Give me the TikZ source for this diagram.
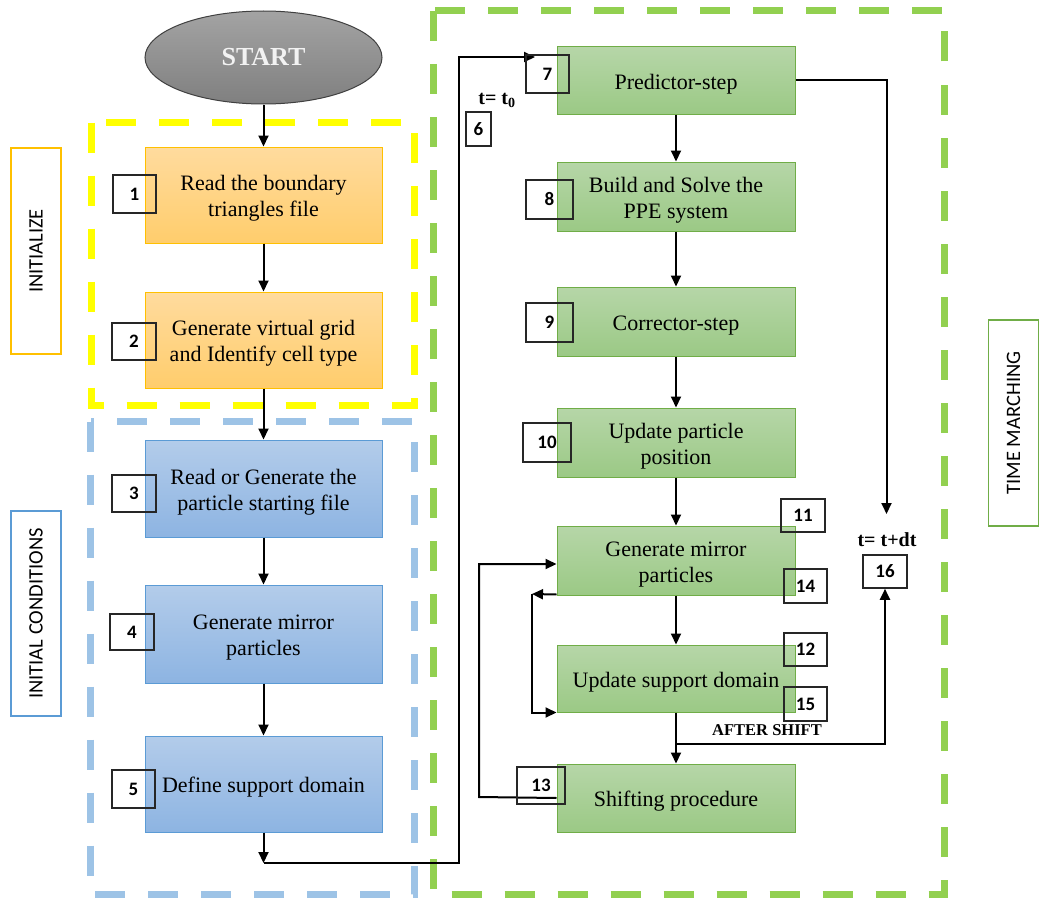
\documentclass[tikz,border=0pt]{standalone}
\usepackage{fontspec}
\setmainfont{Liberation Serif}
\newfontfamily\numfont{Carlito}
\usetikzlibrary{arrows.meta,shapes.geometric}

\definecolor{orangeline}{HTML}{FFC000}
\definecolor{orangetop}{HTML}{FFDB9E}
\definecolor{orangebot}{HTML}{FFCD6C}
\definecolor{blueline}{HTML}{5B9BD5}
\definecolor{bluetop}{HTML}{B3CCEA}
\definecolor{bluebot}{HTML}{8DB4E2}
\definecolor{greenline}{HTML}{70AD47}
\definecolor{greentop}{HTML}{B6D6A8}
\definecolor{greenbot}{HTML}{9BC985}
\definecolor{frameyellow}{HTML}{FFFF00}
\definecolor{frameblue}{HTML}{9DC3E6}
\definecolor{framegreen}{HTML}{92D050}
\definecolor{startline}{HTML}{404040}
\definecolor{starttext}{HTML}{F2F2F2}

% stage text: centred lines, set slightly below the box centre
\newcommand{\stagetext}[1]{\raisebox{-3.5pt}[\height][\depth]{\begin{tabular}{@{}c@{}}#1\end{tabular}}}

\tikzset{
  stage/.style={line width=1pt, minimum width=237pt, inner sep=0pt,
                font=\fontsize{22}{26}\selectfont},
  orangebox/.style={stage, draw=orangeline, top color=orangetop, bottom color=orangebot, minimum height=96pt},
  bluebox/.style={stage, draw=blueline, top color=bluetop, bottom color=bluebot},
  greenbox/.style={stage, draw=greenline, top color=greentop, bottom color=greenbot, minimum width=238pt},
  numbox/.style={draw=black!85, line width=1.6pt, inner sep=0pt,
                 font=\numfont\bfseries\fontsize{19}{21}\selectfont},
  sidelabel/.style={line width=1.3pt, rotate=90, minimum width=206pt, minimum height=50pt, inner sep=0pt,
                    font=\numfont\fontsize{20.5}{22}\selectfont},
  steplabel/.style={inner sep=0pt, font=\bfseries\fontsize{20}{22}\selectfont},
  arr/.style={-{Triangle[length=11pt,width=10pt]}, line width=2pt},
  dashframe/.style={line width=7pt, dash pattern=on 30pt off 23pt},
}

\begin{document}
\begin{tikzpicture}[x=1pt,y=-1pt]
\useasboundingbox (0,0) rectangle (1039,899);

% dashed group frames
\draw[dashframe, frameyellow] (91,122.5) rectangle (414,405);
\draw[dashframe, frameblue] (90.5,421.5) rectangle (414.5,894);
\draw[dashframe, framegreen] (433.5,11) rectangle (944,894);

% side labels
\node[sidelabel, draw=orangeline] (lblinit) at (36,251) {INITIALIZE};
\node[sidelabel, draw=blueline, minimum width=205pt] (lblcond) at (36,613.5) {INITIAL CONDITIONS};
\node[sidelabel, draw=greenline] (lbltime) at (1013.5,423) {TIME MARCHING};

% start
\node[ellipse, draw=startline, line width=1pt, top color=black!36, bottom color=black!50,
      minimum width=237pt, minimum height=93pt, inner sep=0pt, text=starttext,
      font=\bfseries\fontsize{26}{28}\selectfont] (start) at (263.5,57.5) {START};

% initialization stages
\node[orangebox] (b1) at (263.5,195) {\stagetext{Read the boundary\\triangles file}};
\node[orangebox] (b2) at (263.5,340) {\stagetext{Generate virtual grid\\and Identify cell type}};

% initial conditions stages
\node[bluebox, minimum height=97pt] (b3) at (263.5,488.5) {\stagetext{Read or Generate the\\particle starting file}};
\node[bluebox, minimum height=98pt] (b4) at (263.5,634) {\stagetext{Generate mirror\\particles}};
\node[bluebox, minimum height=96pt] (b5) at (263.5,784) {\stagetext{Define support domain}};

% time marching stages
\node[greenbox, minimum height=67pt] (b7) at (676,80.5) {\stagetext{Predictor-step}};
\node[greenbox, minimum height=69pt] (b8) at (676,196.5) {\stagetext{Build and Solve the\\PPE system}};
\node[greenbox, minimum height=69pt] (b9) at (676,321.5) {\stagetext{Corrector-step}};
\node[greenbox, minimum height=69pt] (b10) at (676,442.5) {\stagetext{Update particle\\position}};
\node[greenbox, minimum height=69pt] (b11) at (676,560.5) {\stagetext{Generate mirror\\particles}};
\node[greenbox, minimum height=67pt] (b12) at (676,678.5) {\stagetext{Update support domain}};
\node[greenbox, minimum height=68pt] (b13) at (676,798) {\stagetext{Shifting procedure}};

% step labels
\node[steplabel] (tzero) at (497,100) {t= t\textsubscript{0}};
\node[steplabel] (tnext) at (887,540) {t= t+dt};
\node[inner sep=0pt, font=\bfseries\fontsize{16.5}{18}\selectfont] (aftershift) at (767,730) {AFTER SHIFT};

% connector points
\coordinate (c5) at (263.5,863);
\coordinate (up6) at (459,57);
\coordinate (into7) at (535,57);
\coordinate (drop16) at (886.5,514);
\coordinate (split) at (676,744);
\coordinate (loopL) at (479,797);
\coordinate (backL) at (532,594);

% vertical flow
\draw[arr] (start) -- (b1);
\draw[arr] (b1) -- (b2);
\draw[arr] (b2) -- (b3);
\draw[arr] (b3) -- (b4);
\draw[arr] (b4) -- (b5);
\draw[arr] (b5) -- (c5);
\draw[arr] (c5) -| (up6) -- (into7);
\draw[arr] (b7) -- (b8);
\draw[arr] (b8) -- (b9);
\draw[arr] (b9) -- (b10);
\draw[arr] (b10) -- (b11);
\draw[arr] (b11) -- (b12);
\draw[arr] (b12) -- (b13);

% time step advance
\draw[arr] (b7.east) -| (drop16);

% shifting loop
\draw[arr] (b13.west) -- (loopL) |- ([yshift=-3.5pt]b11.west);
\draw[arr] ([yshift=1pt]b11.south west) -- (backL);
\draw[arr] (backL) |- (b12.south west);

% numbered markers
\node[numbox, minimum width=43pt, minimum height=38pt] (n1) at (134.5,194) {1};
\node[numbox, minimum width=44pt, minimum height=37pt] (n2) at (134,341.5) {2};
\node[numbox, minimum width=44pt, minimum height=37pt] (n3) at (134,493.5) {3};
\node[numbox, minimum width=44pt, minimum height=36pt] (n4) at (132,632) {4};
\node[numbox, minimum width=43pt, minimum height=38pt] (n5) at (133.5,789) {5};
\node[numbox, minimum width=25pt, minimum height=34pt] (n6) at (478.5,129) {6};
\node[numbox, minimum width=43pt, minimum height=38pt] (n7) at (547.5,74) {7};
\node[numbox, minimum width=47pt, minimum height=39pt] (n8) at (549.5,199.5) {8};
\node[numbox, minimum width=47pt, minimum height=39pt] (n9) at (549.5,322.5) {9};
\node[numbox, minimum width=48pt, minimum height=39pt] (n10) at (547,442.5) {10};
\node[numbox, minimum width=44pt, minimum height=33pt] (n11) at (803,515.5) {11};
\node[numbox, minimum width=43pt, minimum height=34pt] (n14) at (805.5,586) {14};
\node[numbox, minimum width=43pt, minimum height=33pt] (n12) at (805.5,649.5) {12};
\node[numbox, minimum width=43pt, minimum height=34pt] (n15) at (805.5,704) {15};
\node[numbox, minimum width=48pt, minimum height=37pt] (n13) at (541,785.5) {13};
\node[numbox, minimum width=44pt, minimum height=33pt] (n16) at (885,571.5) {16};

% after-shift branch to the time step
\draw[arr] (split) -| (n16.south);
\end{tikzpicture}
\end{document}
